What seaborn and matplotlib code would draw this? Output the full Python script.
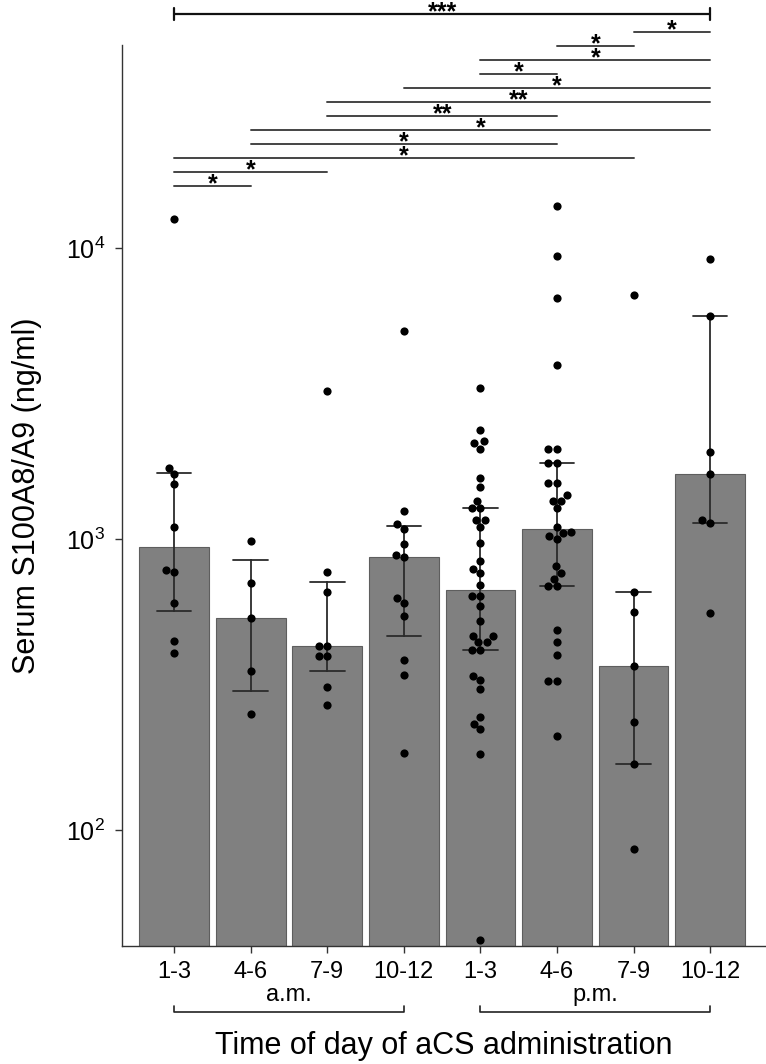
import numpy as np
import pandas as pd
import seaborn as sns
import matplotlib.pyplot as plt
import matplotlib.transforms as mtransforms
from matplotlib.ticker import LogLocator, NullLocator

# 1. Datos (ng/ml)
groups = ["am 1-3", "am 4-6", "am 7-9", "am 10-12", "pm 1-3", "pm 4-6", "pm 7-9", "pm 10-12"]
tick_labels = ["1-3", "4-6", "7-9", "10-12", "1-3", "4-6", "7-9", "10-12"]

am_1_3 = [12650, 1759, 1673, 1546, 1106, 782, 774, 604, 448, 408]
am_4_6 = [987, 706, 536, 352, 250]
am_7_9 = [3228, 770, 659, 430, 430, 398, 398, 310, 269]
am_10_12 = [5195, 1248, 1129, 1088, 966, 883, 869, 630, 606, 545, 384, 341, 184]
pm_1_3 = [3315, 2384, 2178, 2138, 2051, 1625, 1517, 1359, 1281, 1281, 1163, 1163,
          1102, 969, 840, 793, 768, 699, 638, 638, 590, 522, 464, 464, 442, 442,
          415, 415, 339, 329, 305, 245, 232, 222, 183, 42]
pm_4_6 = [13980, 9408, 6761, 3978, 2040, 2040, 1830, 1830, 1558, 1558, 1424, 1359,
          1359, 1285, 1102, 1060, 1051, 1024, 1000, 807, 766, 733, 689, 689, 486,
          443, 399, 327, 327, 210]
pm_7_9 = [6906, 659, 562, 366, 235, 169, 86]
pm_10_12 = [9166, 5848, 1992, 1678, 1163, 1141, 556]

values = [am_1_3, am_4_6, am_7_9, am_10_12, pm_1_3, pm_4_6, pm_7_9, pm_10_12]

# comparaciones significativas (de abajo hacia arriba)
comparisons = [(0, 1, "*"), (0, 2, "*"), (0, 6, "*"), (1, 5, "*"), (1, 7, "*"),
               (2, 5, "**"), (2, 7, "**"), (3, 7, "*"), (4, 5, "*"), (4, 7, "*"),
               (5, 6, "*"), (6, 7, "*"), (0, 7, "***")]

df = pd.DataFrame({
    "grupo": np.repeat(groups, [len(v) for v in values]),
    "valor": np.concatenate(values),
})


# 2. Mediana + rango intercuartil
def iqr(x):
    return (np.percentile(x, 25, method="weibull"), np.percentile(x, 75, method="weibull"))


sns.set_style("ticks")
plt.rcParams["font.family"] = ["Liberation Sans", "DejaVu Sans"]
plt.rcParams.update({"text.color": "black", "axes.labelcolor": "black",
                     "xtick.color": "black", "ytick.color": "black"})

fig = plt.figure(figsize=(7.66, 10.64), dpi=100)
ax = fig.add_axes([122 / 766, 1 - 946 / 1064, 643 / 766, 901 / 1064])

sns.barplot(data=df, x="grupo", y="valor", order=groups, estimator=np.median,
            errorbar=iqr, color="#808080", saturation=1, width=0.91,
            edgecolor="#5e5e5e", linewidth=0.8, capsize=0.45,
            err_kws={"color": "#2b2b2b", "linewidth": 1.3}, ax=ax)
ax.set_yscale("log")
sns.swarmplot(data=df, x="grupo", y="valor", order=groups, color="black",
              size=5.9, ax=ax)

ax.set_ylim(40, 50000)
ax.set_xlim(-0.68, 7.715)
ax.yaxis.set_major_locator(LogLocator(base=10, numticks=10))
ax.yaxis.set_minor_locator(NullLocator())
ax.set_xticks(range(len(groups)))
ax.set_xticklabels(tick_labels)
ax.tick_params(axis="both", labelsize=17, length=5, width=1, color="#333333")
ax.tick_params(axis="x", pad=6)
ax.tick_params(axis="y", pad=7, labelsize=18)
sns.despine(ax=ax)
for s in ["left", "bottom"]:
    ax.spines[s].set_color("#333333")
    ax.spines[s].set_linewidth(1)

ax.set_ylabel("Serum S100A8/A9 (ng/ml)", fontsize=22)
ax.set_xlabel("Time of day of aCS administration", fontsize=22)
ax.yaxis.set_label_coords(-0.125, 0.5)
ax.xaxis.set_label_coords(0.5, -0.094)

trans = mtransforms.blended_transform_factory(ax.transData, ax.transAxes)

# a.m. / p.m.
for (a, b), txt in [((0, 3), "a.m."), ((4, 7), "p.m.")]:
    ax.text((a + b) / 2, -0.061, txt, transform=trans, ha="center", va="baseline",
            fontsize=17, clip_on=False)
    ax.plot([a, a, b, b], [-0.0666, -0.0729, -0.0729, -0.0666], transform=trans,
            color="#222222", lw=1.2, clip_on=False)

# 3. Barras de significancia
base, step = 0.8438, 0.01554
for i, (a, b, lab) in enumerate(comparisons):
    y = base + i * step
    if lab == "***":
        y += 0.004
        ax.plot([a, b], [y, y], transform=trans, color="#111111", lw=1.6, clip_on=False)
        for xx in (a, b):
            ax.plot([xx, xx], [y - 0.007, y + 0.007], transform=trans,
                    color="#111111", lw=1.6, clip_on=False)
    else:
        ax.plot([a, b], [y, y], transform=trans, color="#444444", lw=1.4, clip_on=False)
    ax.annotate(lab, xy=((a + b) / 2, y), xycoords=trans, xytext=(0, -4),
                textcoords="offset points", ha="center", va="baseline",
                fontsize=18, fontweight="bold", color="black", annotation_clip=False)

fig.savefig("out.png", dpi=100)
